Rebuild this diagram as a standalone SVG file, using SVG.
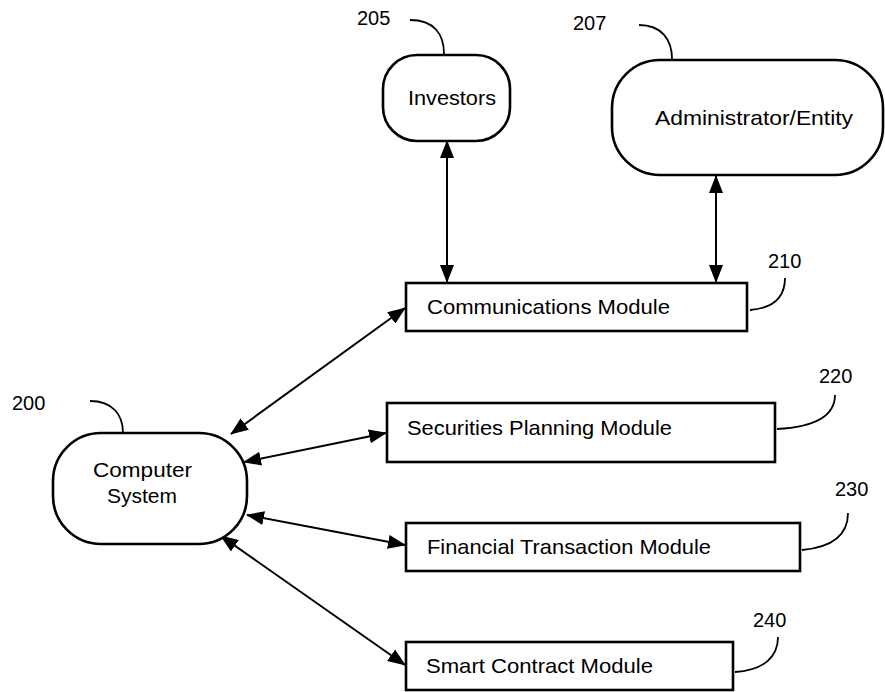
<svg xmlns="http://www.w3.org/2000/svg" width="885" height="692" viewBox="0 0 885 692">
  <style>
    .shape { fill: #fff; stroke: #000; stroke-width: 2.6; }
    .lbl { font-family: "Liberation Sans", Arial, sans-serif; font-size: 21px; fill: #000; }
    .num { font-family: "Liberation Sans", Arial, sans-serif; font-size: 20px; fill: #000; }
    .lead { fill: none; stroke: #000; stroke-width: 1.8; }
    .conn { fill: none; stroke: #000; stroke-width: 2; marker-start: url(#head); marker-end: url(#head); }
  </style>
  <defs>
    <marker id="head" viewBox="0 0 18 14" refX="17" refY="7" markerWidth="18" markerHeight="14" markerUnits="userSpaceOnUse" orient="auto-start-reverse">
      <path d="M0,0 L18,7 L0,14 Z" fill="#000"/>
    </marker>
  </defs>

  <rect width="885" height="692" fill="#fff"/>

  <!-- connectors -->
  <g id="connectors">
    <line class="conn" x1="447" y1="141" x2="447" y2="282"/>
    <line class="conn" x1="716" y1="176" x2="716" y2="282"/>
    <line class="conn" x1="405" y1="308" x2="231" y2="434"/>
    <line class="conn" x1="386" y1="433" x2="244" y2="462"/>
    <line class="conn" x1="405" y1="545" x2="247" y2="515"/>
    <line class="conn" x1="405" y1="665" x2="221" y2="536"/>
  </g>

  <g id="investors">
    <rect class="shape" x="383" y="55" width="127" height="86" rx="34" ry="34"/>
    <text class="lbl" x="408" y="105" textLength="88" lengthAdjust="spacingAndGlyphs">Investors</text>
    <path class="lead" d="M410,20 C434,20 444,34 444,54"/>
    <text class="num" x="357" y="25">205</text>
  </g>

  <g id="administrator">
    <rect class="shape" x="612" y="60" width="271" height="115" rx="48" ry="48"/>
    <text class="lbl" x="655" y="125" textLength="198" lengthAdjust="spacingAndGlyphs">Administrator/Entity</text>
    <path class="lead" d="M639,25 C662,25 672,40 672,59"/>
    <text class="num" x="573" y="30">207</text>
  </g>

  <g id="computer-system">
    <rect class="shape" x="53" y="433" width="194" height="111" rx="48" ry="48"/>
    <text class="lbl" x="93" y="477" textLength="99" lengthAdjust="spacingAndGlyphs">Computer</text>
    <text class="lbl" x="107" y="503" textLength="70" lengthAdjust="spacingAndGlyphs">System</text>
    <path class="lead" d="M90,401 C113,401 123,415 123,433"/>
    <text class="num" x="12" y="410">200</text>
  </g>

  <g id="communications-module">
    <rect class="shape" x="406" y="283" width="341" height="48"/>
    <text class="lbl" x="427" y="314" textLength="243" lengthAdjust="spacingAndGlyphs">Communications Module</text>
    <path class="lead" d="M750,310 C775,308 785,296 785,278"/>
    <text class="num" x="768" y="268">210</text>
  </g>

  <g id="securities-planning-module">
    <rect class="shape" x="387" y="403" width="388" height="59"/>
    <text class="lbl" x="407" y="435" textLength="265" lengthAdjust="spacingAndGlyphs">Securities Planning Module</text>
    <path class="lead" d="M777,429 C815,427 835,416 835,395"/>
    <text class="num" x="819" y="383">220</text>
  </g>

  <g id="financial-transaction-module">
    <rect class="shape" x="406" y="523" width="394" height="48"/>
    <text class="lbl" x="427" y="554" textLength="284" lengthAdjust="spacingAndGlyphs">Financial Transaction Module</text>
    <path class="lead" d="M802,550 C835,547 848,533 848,513"/>
    <text class="num" x="835" y="496">230</text>
  </g>

  <g id="smart-contract-module">
    <rect class="shape" x="406" y="642" width="327" height="48"/>
    <text class="lbl" x="426" y="673" textLength="227" lengthAdjust="spacingAndGlyphs">Smart Contract Module</text>
    <path class="lead" d="M735,672 C765,670 778,656 778,637"/>
    <text class="num" x="753" y="627">240</text>
  </g>
</svg>
